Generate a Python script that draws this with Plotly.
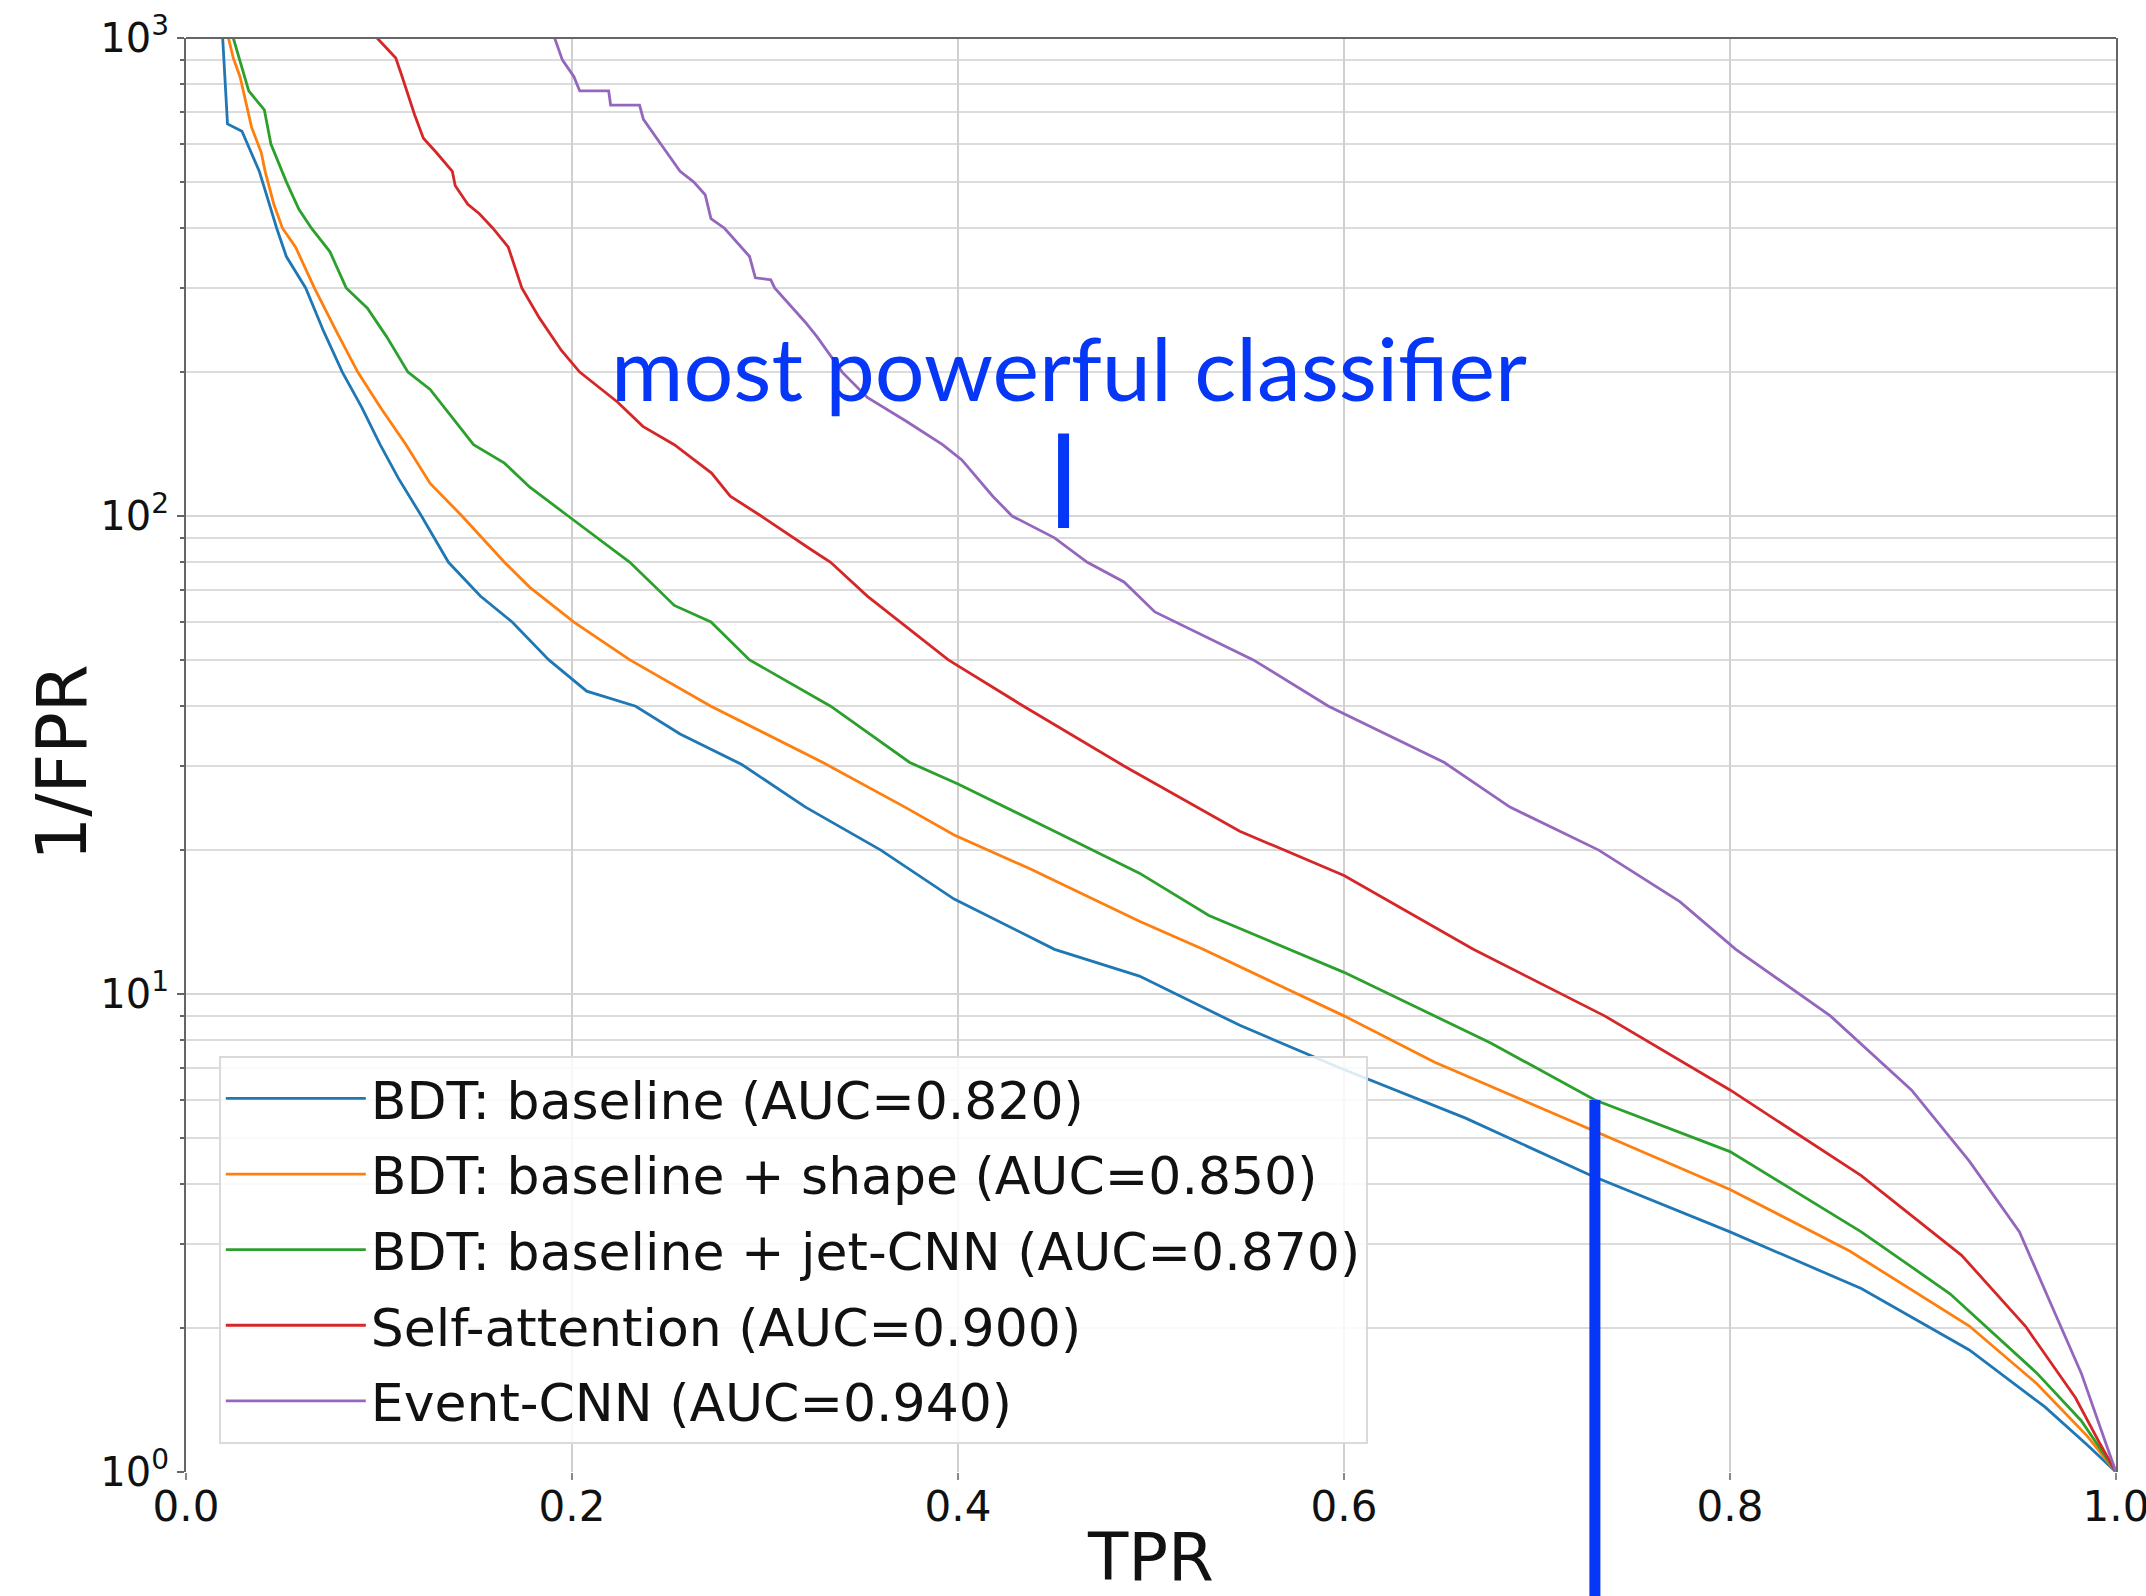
import math
import plotly.graph_objects as go

# ---------------- data ----------------
series_names = [
    "BDT: baseline (AUC=0.820)",
    "BDT: baseline + shape (AUC=0.850)",
    "BDT: baseline + jet-CNN (AUC=0.870)",
    "Self-attention (AUC=0.900)",
    "Event-CNN (AUC=0.940)",
]
series_colors = ["#1f77b4", "#ff7f0e", "#2ca02c", "#d62728", "#9467bd"]

tpr_baseline = [0.019, 0.0215, 0.029, 0.038, 0.047, 0.052, 0.062, 0.0714, 0.081, 0.091,
                0.1006, 0.110, 0.122, 0.136, 0.1525, 0.169, 0.188, 0.2076, 0.233, 0.256,
                0.288, 0.321, 0.360, 0.398, 0.450, 0.494, 0.546, 0.598, 0.663, 0.728,
                0.800, 0.868, 0.924, 0.963, 0.985, 1.000]
inv_fpr_baseline = [1000, 661, 638, 526, 400, 349, 300, 243, 200, 169,
                    141, 120, 100, 80, 68, 60, 50, 43, 40, 35,
                    30.2, 24.6, 20, 15.8, 12.4, 10.9, 8.6, 7.0, 5.5, 4.17,
                    3.18, 2.42, 1.80, 1.37, 1.14, 1.0]

tpr_shape = [0.022, 0.0245, 0.028, 0.031, 0.034, 0.039, 0.041, 0.0455, 0.050, 0.0568,
             0.0665, 0.078, 0.089, 0.1006, 0.114, 0.1265, 0.143, 0.165, 0.178, 0.201,
             0.230, 0.272, 0.330, 0.3725, 0.398, 0.437, 0.494, 0.527, 0.600, 0.647,
             0.728, 0.800, 0.862, 0.924, 0.959, 0.985, 1.000]
inv_fpr_shape = [1000, 908, 830, 740, 650, 576, 526, 449, 400, 365,
                 300, 243, 200, 169, 141, 117, 100, 80, 71, 60,
                 50, 40, 30.5, 24.6, 21.5, 18.3, 14.2, 12.4, 9.0, 7.2,
                 5.2, 3.9, 2.9, 2.02, 1.53, 1.19, 1.0]

tpr_jetcnn = [0.0245, 0.029, 0.0325, 0.0406, 0.044, 0.052, 0.0585, 0.065, 0.0746, 0.083,
              0.094, 0.104, 0.115, 0.1265, 0.1395, 0.149, 0.165, 0.178, 0.198, 0.230,
              0.253, 0.272, 0.292, 0.334, 0.375, 0.400, 0.450, 0.494, 0.530, 0.600,
              0.676, 0.730, 0.800, 0.868, 0.914, 0.959, 0.982, 1.000]
inv_fpr_jetcnn = [1000, 869, 775, 707, 600, 500, 438, 400, 357, 300,
                  272, 237, 200, 184, 158, 141, 129, 115, 100, 80,
                  65, 60, 50, 40, 30.5, 27.5, 21.9, 17.9, 14.6, 11.1,
                  7.9, 6.0, 4.68, 3.18, 2.36, 1.61, 1.28, 1.0]

tpr_selfatt = [0.099, 0.1087, 0.112, 0.1184, 0.123, 0.1297, 0.138, 0.1395, 0.146, 0.152,
               0.159, 0.167, 0.174, 0.183, 0.1945, 0.204, 0.2237, 0.2367, 0.253, 0.2723,
               0.282, 0.298, 0.324, 0.334, 0.353, 0.370, 0.395, 0.434, 0.486, 0.546,
               0.600, 0.667, 0.735, 0.800, 0.868, 0.920, 0.953, 0.979, 0.992, 1.000]
inv_fpr_selfatt = [1000, 908, 830, 692, 617, 576, 526, 491, 449, 429,
                   400, 365, 300, 260, 222, 200, 173, 154, 141, 123,
                   110, 100, 85, 80, 68, 60, 50, 40, 30, 21.9,
                   17.7, 12.4, 9.0, 6.3, 4.17, 2.84, 2.02, 1.43, 1.14, 1.0]

tpr_eventcnn = [0.191, 0.195, 0.201, 0.204, 0.219, 0.220, 0.235, 0.237, 0.246, 0.256,
                0.263, 0.269, 0.272, 0.279, 0.292, 0.295, 0.303, 0.305, 0.321, 0.327,
                0.340, 0.353, 0.373, 0.392, 0.402, 0.418, 0.428, 0.450, 0.467, 0.486,
                0.502, 0.553, 0.592, 0.652, 0.686, 0.732, 0.774, 0.803, 0.852, 0.894,
                0.924, 0.950, 0.966, 0.982, 0.995, 1.000]
inv_fpr_eventcnn = [1000, 900, 830, 775, 775, 724, 724, 676, 600, 526,
                    500, 470, 419, 400, 349, 315, 312, 300, 254, 237,
                    200, 177, 158, 141, 131, 110, 100, 90, 80, 72.8,
                    63, 50, 40, 30.5, 24.6, 20, 15.6, 12.4, 9.0, 6.3,
                    4.47, 3.18, 2.26, 1.61, 1.14, 1.0]

series_tpr = [tpr_baseline, tpr_shape, tpr_jetcnn, tpr_selfatt, tpr_eventcnn]
series_inv_fpr = [inv_fpr_baseline, inv_fpr_shape, inv_fpr_jetcnn, inv_fpr_selfatt, inv_fpr_eventcnn]

x_tick_vals = [0.0, 0.2, 0.4, 0.6, 0.8, 1.0]
y_tick_vals = [1, 10, 100, 1000]
y_tick_text = ["10<sup>0</sup>", "10<sup>1</sup>", "10<sup>2</sup>", "10<sup>3</sup>"]
y_minor_vals = [m * 10 ** e for e in range(3) for m in range(2, 10)]

x_title = "TPR"
y_title = "1/FPR"
annotation_text = "most powerful classifier"
annot_tpr = 0.4577          # centre of the annotation text
annot_tick_tpr = 0.4547     # short marker under the text
annot_tick_range = (94.4, 148.8)
cut_tpr = 0.730             # long vertical marker
cut_top = 6.0

BLUE = "#0636f6"
FONT = "DejaVu Sans"

# ---------------- figure ----------------
fig = go.Figure()
for i, (name, col, xs, ys) in enumerate(zip(series_names, series_colors, series_tpr, series_inv_fpr)):
    fig.add_trace(go.Scatter(
        x=xs, y=ys, mode="lines", name=name, legendgroup=f"g{i}",
        line=dict(color=col, width=2.8),
    ))

fig.update_layout(
    width=2146, height=1596,
    margin=dict(l=186, r=30, t=38, b=124, autoexpand=False),
    paper_bgcolor="white", plot_bgcolor="white",
    font=dict(family=FONT, color="#111111"),
    showlegend=True,
    legend=dict(
        x=0.017, y=0.290, xanchor="left", yanchor="top",
        font=dict(family=FONT, size=52, color="#111111"),
        bgcolor="rgba(255,255,255,0.85)",
        bordercolor="#dadada", borderwidth=2,
        tracegroupgap=5,
        itemwidth=140,
    ),
)

fig.update_xaxes(
    range=[0, 1], tickvals=x_tick_vals, tickformat=".1f", automargin=False,
    showgrid=True, gridcolor="#d0d0d0", gridwidth=1.5,
    showline=False, zeroline=False,
    ticks="outside", ticklen=7, tickcolor="#888888", tickwidth=1.5,
    ticklabeloverflow="allow", ticklabelstandoff=-9,
    tickfont=dict(family=FONT, size=42, color="#111111"),
    title=dict(text=x_title, font=dict(family=FONT, size=66, color="#111111"), standoff=8),
)
fig.update_yaxes(
    type="log", range=[0, 3], tickvals=y_tick_vals, ticktext=y_tick_text, automargin=False,
    showgrid=True, gridcolor="#d6d6d6", gridwidth=2,
    showline=True, linecolor="#666666", linewidth=2, mirror=True,
    zeroline=False,
    ticks="outside", ticklen=7, tickcolor="#666666", tickwidth=1.5,
    ticklabeloverflow="allow",
    tickfont=dict(family=FONT, size=40, color="#111111"),
    minor=dict(tickvals=y_minor_vals, showgrid=True, gridcolor="#dcdcdc", gridwidth=2,
               ticks="outside", ticklen=4, tickcolor="#666666"),
)

# y-axis title placed as a rotated annotation
fig.add_annotation(
    x=-0.064, y=0.495, xref="paper", yref="paper", text=y_title, textangle=-90,
    showarrow=False, xanchor="center", yanchor="middle",
    font=dict(family=FONT, size=69, color="#111111"),
)

# top spine
fig.add_shape(type="line", xref="paper", yref="paper", x0=0, x1=1, y0=1, y1=1,
              line=dict(color="#666666", width=2))

# annotation text
fig.add_annotation(
    x=annot_tpr, y=(1472 - 367) / 1434, xref="x", yref="paper",
    text=annotation_text, showarrow=False, xanchor="center", yanchor="middle",
    font=dict(family="Lato", size=88, color=BLUE),
)

# short marker under the text
fig.add_shape(type="line", xref="x", yref="paper",
              x0=annot_tick_tpr, x1=annot_tick_tpr,
              y0=math.log10(annot_tick_range[0]) / 3, y1=math.log10(annot_tick_range[1]) / 3,
              line=dict(color=BLUE, width=11))

# long vertical marker, extending below the axis
fig.add_shape(type="line", xref="x", yref="paper",
              x0=cut_tpr, x1=cut_tpr, y0=-0.1, y1=math.log10(cut_top) / 3,
              line=dict(color=BLUE, width=11))

fig.write_html("out.html")
